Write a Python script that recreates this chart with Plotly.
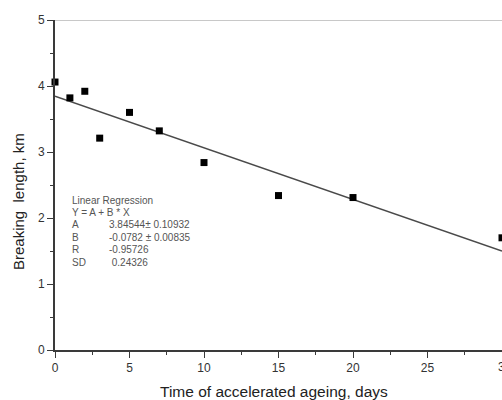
import plotly.graph_objects as go

# Data
days = [0, 1, 2, 3, 5, 7, 10, 15, 20, 30]
breaking_length = [4.06, 3.82, 3.92, 3.21, 3.60, 3.32, 2.84, 2.34, 2.31, 1.70]

# Regression parameters printed on the chart
fit_A = 3.84544
fit_B = -0.0782
fit_x = [0, 30]
fit_y = [fit_A + fit_B * x for x in fit_x]

reg_labels = ["A", "B", "R", "SD"]
reg_values = ["3.84544± 0.10932", "-0.0782 ± 0.00835", "-0.95726", " 0.24326"]

x_ticks = [0, 5, 10, 15, 20, 25]
y_ticks = [0, 1, 2, 3, 4, 5]

W, H = 502, 400
ML, MR, MT, MB = 55, 0, 20, 50
PW = W - ML - MR
PH = H - MT - MB


def px(x):
    return (x - ML) / PW


def py(y):
    return (H - MB - y) / PH


FONT = "Liberation Sans, Arial, sans-serif"
AX = "#3a3a3a"
x_end = 30.0

fig = go.Figure()
fig.add_trace(go.Scatter(x=fit_x, y=fit_y, mode="lines",
                         line=dict(color="#4a4a4a", width=1.6),
                         cliponaxis=True, showlegend=False))
fig.add_trace(go.Scatter(x=days, y=breaking_length, mode="markers",
                         marker=dict(symbol="square", size=7, color="black"),
                         cliponaxis=False, showlegend=False))

fig.update_xaxes(range=[0, x_end], tickvals=x_ticks, ticks="outside", ticklen=6,
                 tickwidth=1.3, tickcolor=AX, showline=True, linecolor=AX, linewidth=1.6,
                 showgrid=False, zeroline=False,
                 tickfont=dict(family=FONT, size=12, color="#333333"),
                 minor=dict(dtick=2.5, tick0=0, ticks="outside", ticklen=3,
                            tickcolor=AX, tickwidth=1.3))
fig.update_yaxes(range=[0, 5], tickvals=y_ticks, ticks="outside", ticklen=6,
                 tickwidth=1.3, tickcolor=AX, showline=True, linecolor=AX, linewidth=1.6,
                 showgrid=False, zeroline=False,
                 tickfont=dict(family=FONT, size=12, color="#333333"),
                 minor=dict(dtick=0.5, tick0=0, ticks="outside", ticklen=3,
                            tickcolor=AX, tickwidth=1.3))

fig.add_shape(type="line", xref="paper", yref="y", x0=0, x1=1, y0=5, y1=5,
              line=dict(color="#c8c8c8", width=2), layer="below")

ann = []
ann.append(dict(text="Breaking  length, km", x=px(18), y=py(202), textangle=-90,
                xanchor="center", yanchor="middle",
                font=dict(family=FONT, size=15, color="#222222")))
ann.append(dict(text="Time of accelerated ageing, days", x=px(274), y=py(391),
                xanchor="center", yanchor="middle",
                font=dict(family=FONT, size=15.5, color="#222222")))
ann.append(dict(text="30", x=px(505), y=py(367), xanchor="center", yanchor="middle",
                font=dict(family=FONT, size=12, color="#333333")))

rfont = dict(family=FONT, size=10, color="#555555")
line_y = [200, 212.4, 224.8, 237.2, 249.6, 262]
ann.append(dict(text="Linear Regression", x=px(70), y=py(line_y[0]),
                xanchor="left", yanchor="middle", font=rfont))
ann.append(dict(text="Y = A + B * X", x=px(70), y=py(line_y[1]),
                xanchor="left", yanchor="middle", font=rfont))
for i, (lab, val) in enumerate(zip(reg_labels, reg_values)):
    ann.append(dict(text=lab, x=px(70), y=py(line_y[i + 2]),
                    xanchor="left", yanchor="middle", font=rfont))
    ann.append(dict(text=val, x=px(107), y=py(line_y[i + 2]),
                    xanchor="left", yanchor="middle", font=rfont))

for a in ann:
    a.update(xref="paper", yref="paper", showarrow=False)
fig.update_layout(annotations=ann, width=W, height=H,
                  margin=dict(l=ML, r=MR, t=MT, b=MB, pad=0),
                  plot_bgcolor="white", paper_bgcolor="white",
                  font=dict(family=FONT))

fig.write_html("out.html", config={"displayModeBar": False},
               post_script="document.body.style.margin='0';"
                           "document.body.style.overflow='hidden';"
                           "document.documentElement.style.overflow='hidden';")
